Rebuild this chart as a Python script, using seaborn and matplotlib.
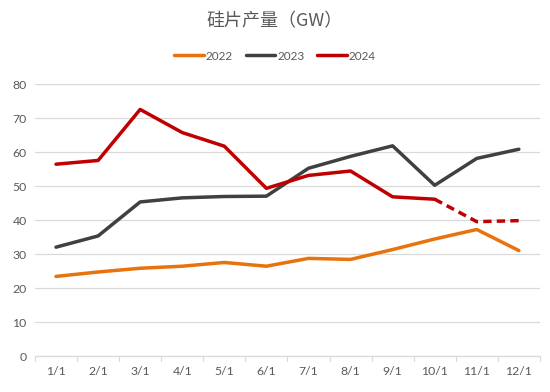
import matplotlib
matplotlib.use("Agg")
import matplotlib.pyplot as plt
import seaborn as sns
import pandas as pd

months = ["1/1", "2/1", "3/1", "4/1", "5/1", "6/1", "7/1", "8/1", "9/1", "10/1", "11/1", "12/1"]
y2022 = [23.5, 24.8, 25.9, 26.5, 27.6, 26.5, 28.8, 28.5, 31.4, 34.5, 37.3, 31.1]
y2023 = [32.1, 35.4, 45.4, 46.6, 47.0, 47.1, 55.3, 58.8, 61.9, 50.3, 58.2, 60.9]
y2024 = [56.5, 57.6, 72.6, 65.8, 61.8, 49.4, 53.2, 54.5, 46.9, 46.2, 39.6, 39.9]
series_names = ["2022", "2023", "2024"]
forecast_start = "10/1"  # 2024 dashed from here on
yticks = [0, 10, 20, 30, 40, 50, 60, 70, 80]
title = "硅片产量（GW）"

colors = {"2022": "#E8720C", "2023": "#404040", "2024": "#C00000"}

sns.set_theme(style="white")
plt.rcParams["font.family"] = ["Lato", "Noto Sans CJK SC", "DejaVu Sans"]

rows = []
for name, vals in zip(series_names, [y2022, y2023, y2024]):
    for i, (m, v) in enumerate(zip(months, vals)):
        rows.append({"idx": i, "month": m, "value": v, "year": name})
df = pd.DataFrame(rows)

fs = months.index(forecast_start)
solid = df[~((df["year"] == "2024") & (df["idx"] > fs))]
dashed = df[(df["year"] == "2024") & (df["idx"] >= fs)]

fig = plt.figure(figsize=(5.5, 3.92), dpi=100)
ax = fig.add_axes([0.0636, 0.091, 0.918, 0.694])

sns.lineplot(data=solid, x="idx", y="value", hue="year", palette=colors,
             linewidth=2.5, ax=ax, legend=True, sort=True)
sns.lineplot(data=dashed, x="idx", y="value", color=colors["2024"],
             linewidth=2.5, linestyle=(0, (2.4, 1.5)), ax=ax, legend=False)

ax.set_xlim(-0.5, len(months) - 0.5)
ax.set_ylim(0, 80)
ax.set_yticks(yticks)
ax.set_yticklabels([str(t) for t in yticks], color="#595959", fontsize=8.8)
ax.set_xticks(range(len(months)))
ax.set_xticklabels(months, color="#595959", fontsize=8.8)
ax.tick_params(axis="x", length=0, pad=7)
ax.tick_params(axis="y", length=0, pad=6)
ax.set_xlabel("")
ax.set_ylabel("")
ax.grid(axis="y", color="#D9D9D9", linewidth=0.9)
ax.set_axisbelow(True)
for s in ["left", "right", "top"]:
    ax.spines[s].set_visible(False)
ax.spines["bottom"].set_color("#D9D9D9")
ax.spines["bottom"].set_linewidth(0.9)
# boundary tick marks
for b in [i - 0.5 for i in range(len(months) + 1)]:
    ax.plot([b, b], [0, -1.5], color="#D9D9D9", linewidth=0.9, clip_on=False)

handles, labels = ax.get_legend_handles_labels()
ax.get_legend().remove()
fig.legend(handles, labels, loc="center", bbox_to_anchor=(0.5, 0.857), ncol=3,
           frameon=False, fontsize=8.5, handlelength=2.5, handletextpad=0.15,
           columnspacing=1.1, labelcolor="#595959")

fig.text(0.5, 0.945, title, ha="center", va="center", fontsize=13, color="#595959",
         family=["Noto Sans CJK SC", "DejaVu Sans"])

fig.savefig("out.png", dpi=100)
